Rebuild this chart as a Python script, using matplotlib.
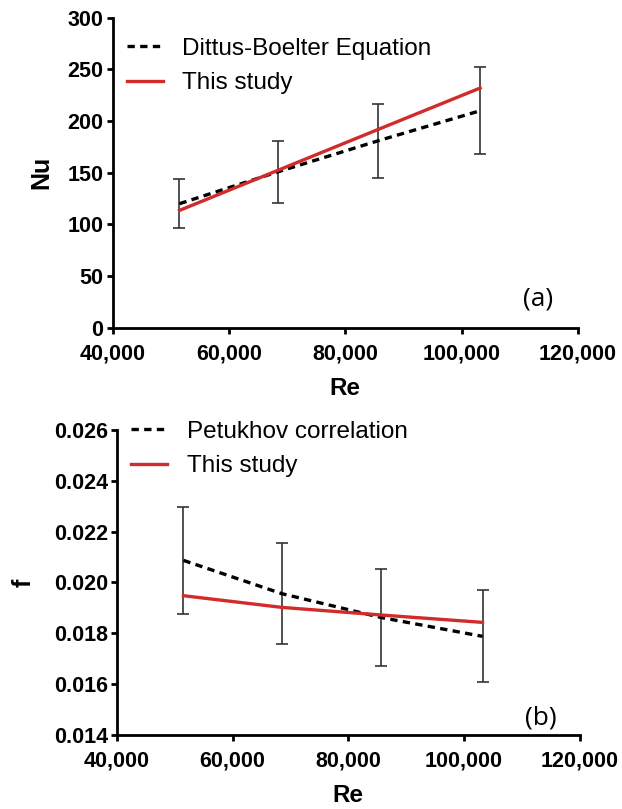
import matplotlib
matplotlib.use("Agg")
import matplotlib.pyplot as plt
from matplotlib.ticker import FuncFormatter

# Reynolds-Zahlen der Messpunkte
re_points = [51500, 68500, 85700, 103200]

# (a) Nusselt-Zahl
nu_dittus = [120, 151, 181, 210]
nu_study = [113.5, 152.5, 192, 232]
nu_err = [24, 30, 36, 42]

# (b) Reibungsbeiwert
f_petukhov = [0.02087, 0.01956, 0.01862, 0.01788]
f_study = [0.01948, 0.01902, 0.01872, 0.01843]
f_err = [0.00211, 0.00198, 0.00190, 0.00181]

RED = "#d22b2b"
FONT = "Liberation Sans"

plt.rcParams["font.family"] = [FONT, "DejaVu Sans"]

fig = plt.figure(figsize=(6.22, 8.09), dpi=100)
ax_a = fig.add_axes([0.181, 0.595, 0.748, 0.383])
ax_b = fig.add_axes([0.188, 0.0915, 0.744, 0.377])


def style_axis(ax):
    for side in ("top", "right"):
        ax.spines[side].set_visible(False)
    for side in ("left", "bottom"):
        ax.spines[side].set_linewidth(2)
    ax.tick_params(direction="out", length=4.5, width=2, labelsize=15.5)
    ax.tick_params(axis="x", pad=7)
    ax.tick_params(axis="y", pad=2)
    for lab in ax.get_xticklabels() + ax.get_yticklabels():
        lab.set_fontweight("bold")
    ax.xaxis.set_major_formatter(FuncFormatter(lambda v, p: f"{v:,.0f}"))
    ax.set_xlim(40000, 120000)
    ax.set_xticks([40000, 60000, 80000, 100000, 120000])
    ax.set_xlabel("Re", fontsize=17.5, fontweight="bold", labelpad=9)


def draw(ax, ref, study, err, ref_label, legend_y):
    ax.errorbar(re_points, ref, yerr=err, fmt="none", ecolor="#333333",
                elinewidth=1.2, capsize=4.5, capthick=1.2, zorder=2)
    ax.plot(re_points, ref, color="black", linestyle=(0, (2.2, 1.6)),
            linewidth=2.4, label=ref_label, zorder=3)
    ax.plot(re_points, study, color=RED, linewidth=2.4, label="This study", zorder=4)
    ax.legend(loc="upper left", bbox_to_anchor=(0.03, legend_y), frameon=False,
              fontsize=17.5, handlelength=1.5, handletextpad=0.8,
              labelspacing=0.5, borderaxespad=0, borderpad=0)


# (a)
draw(ax_a, nu_dittus, nu_study, nu_err, "Dittus-Boelter Equation", 0.935)
ax_a.set_ylim(0, 300)
ax_a.set_yticks(range(0, 301, 50))
ax_a.set_ylabel("Nu", fontsize=18, fontweight="bold", labelpad=10)
style_axis(ax_a)
ax_a.text(113100, 28, "(a)", fontsize=19, family="Open Sans", ha="center", va="center")

# (b)
draw(ax_b, f_petukhov, f_study, f_err, "Petukhov correlation", 1.03)
ax_b.set_ylim(0.014, 0.026)
ax_b.set_yticks([0.014, 0.016, 0.018, 0.020, 0.022, 0.024, 0.026])
ax_b.yaxis.set_major_formatter(FuncFormatter(lambda v, p: f"{v:.3f}"))
ax_b.set_ylabel("f", fontsize=18, fontweight="bold", labelpad=13)
style_axis(ax_b)
ax_b.text(113300, 0.01467, "(b)", fontsize=19, family="Open Sans", ha="center", va="center")

fig.savefig("out.png", dpi=100)
